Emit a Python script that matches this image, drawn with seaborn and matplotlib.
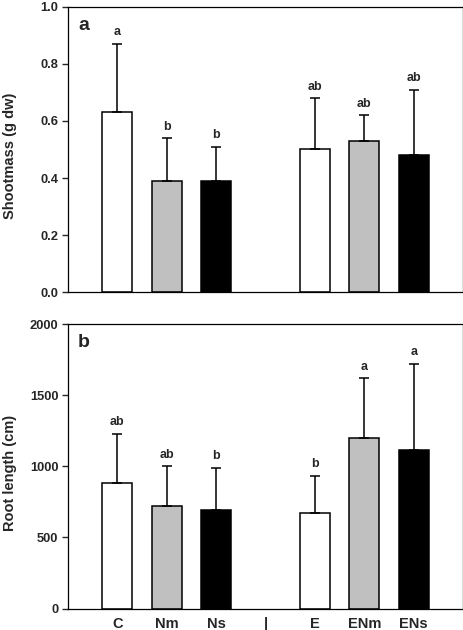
import numpy as np
import pandas as pd
import matplotlib
matplotlib.use('Agg')
from matplotlib import pyplot as plt
import seaborn as sns

# data (means + upper SD)
treatments = ['C', 'Nm', 'Ns', '|', 'E', 'ENm', 'ENs']
shoot_mean = [0.63, 0.39, 0.39, np.nan, 0.50, 0.53, 0.48]
shoot_err = [0.24, 0.15, 0.12, np.nan, 0.18, 0.09, 0.23]
shoot_letters = ['a', 'b', 'b', '', 'ab', 'ab', 'ab']
root_mean = [880, 720, 695, np.nan, 670, 1200, 1115]
root_err = [350, 280, 295, np.nan, 265, 420, 605]
root_letters = ['ab', 'ab', 'b', '', 'b', 'a', 'a']
bar_colors = ['white', '#c0c0c0', 'black', 'white', 'white', '#c0c0c0', 'black']

sns.set_style('ticks')
plt.rcParams['font.family'] = ['Liberation Sans', 'DejaVu Sans']
plt.rcParams['font.weight'] = 'bold'
plt.rcParams['axes.labelweight'] = 'bold'

palette = dict(zip(treatments, bar_colors))

fig = plt.figure(figsize=(4.64, 6.3), dpi=100)
ax1 = fig.add_axes([0.1466, 0.5365, 0.8514, 0.4524])
ax2 = fig.add_axes([0.1466, 0.0341, 0.8514, 0.4516])


def panel(ax, means, errs, letters, ylabel, ymax, step, fmt, tag, show_x):
    df = pd.DataFrame({'Treatment': treatments, 'Value': means})
    sns.barplot(x='Treatment', y='Value', data=df, hue='Treatment', order=treatments,
                palette=palette, legend=False, width=0.61, edgecolor='black',
                linewidth=1.1, errorbar=None, ax=ax)
    pos = np.arange(len(treatments))
    m = np.array(means, dtype=float)
    e = np.array(errs, dtype=float)
    ax.errorbar(pos, m, yerr=[np.zeros_like(e), e], fmt='none', ecolor='black',
                elinewidth=1.1, capsize=3.3, capthick=1.1, zorder=5)
    for i, lab in enumerate(letters):
        if lab:
            ax.annotate(lab, (pos[i], m[i] + e[i]), xytext=(0, 4), textcoords='offset points',
                        ha='center', va='bottom', fontsize=9, fontweight='bold')
    ax.set_xlim(-1, 7)
    ax.set_ylim(0, ymax)
    ticks = np.arange(0, ymax + step / 2, step)
    ax.set_yticks(ticks)
    ax.set_yticklabels([fmt.format(t) for t in ticks], fontsize=9.3, fontweight='bold')
    ax.tick_params(axis='y', direction='out', length=4, width=1, pad=3)
    ax.tick_params(axis='x', length=0, pad=6)
    if show_x:
        ax.set_xticks(pos)
        ax.set_xticklabels(treatments, fontsize=10.5, fontweight='bold')
    else:
        ax.set_xticks([])
    ax.set_xlabel('')
    ax.set_ylabel(ylabel, fontsize=10.5, fontweight='bold')
    ax.yaxis.set_label_coords(-0.128, 0.478)
    for s in ax.spines.values():
        s.set_visible(True)
        s.set_linewidth(0.9)
        s.set_color('black')
    ax.text(0.025, 0.965, tag, transform=ax.transAxes, ha='left', va='top',
            fontsize=14, fontweight='bold')


panel(ax1, shoot_mean, shoot_err, shoot_letters, 'Shootmass (g dw)', 1.0, 0.2, '{:.1f}', 'a', False)
panel(ax2, root_mean, root_err, root_letters, 'Root length (cm)', 2000, 500, '{:.0f}', 'b', True)

plt.savefig('out.png', dpi=100)
